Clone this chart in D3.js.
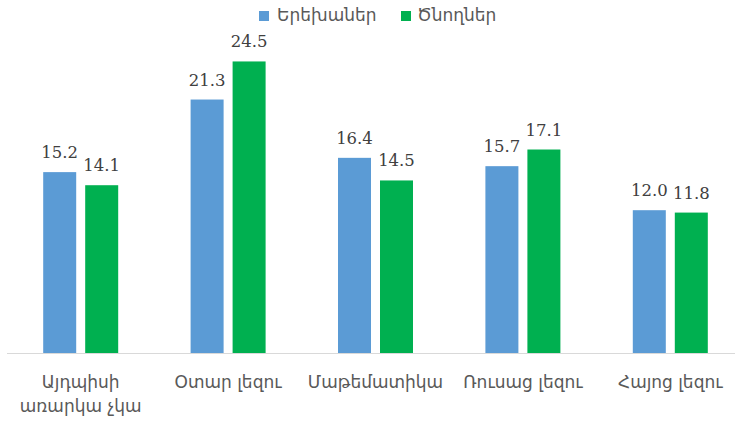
<!DOCTYPE html>
<html><head><meta charset="utf-8">
<script src="https://cdn.jsdelivr.net/npm/d3@7"></script>
<style>body{margin:0;background:#fff}svg{display:block}</style>
</head><body>
<script>
const categories = [["Այդպիսի","առարկա չկա"],["Օտար լեզու"],["Մաթեմատիկա"],["Ռուսաց լեզու"],["Հայոց լեզու"]];
const seriesNames = ["Երեխաներ","Ծնողներ"];
const children = [15.2, 21.3, 16.4, 15.7, 12.0];
const parents = [14.1, 24.5, 14.5, 17.1, 11.8];
const colors = ["#5B9BD5","#00B050"];

const W=735,H=424;
const svg=d3.select("body").append("svg").attr("width",W).attr("height",H);
const base=353;
const y=d3.scaleLinear().domain([0,25]).range([base, base-25*11.9]);
const x0=d3.scaleBand().domain(d3.range(categories.length)).range([7,744]).padding(0);
const x1=d3.scaleBand().domain([0,1]).range([0,75]).paddingInner(9/42).paddingOuter(0);
const off=(x0.bandwidth()-75)/2;
const series=[children,parents];
const serif="'DejaVu Serif', serif";
const arm="'DejaVu Sans', 'Noto Sans', sans-serif";

// axis line
svg.append("line").attr("x1",7).attr("x2",735).attr("y1",base+0.5).attr("y2",base+0.5)
  .attr("stroke","#d9d9d9").attr("stroke-width",1);

categories.forEach((c,i)=>{
  const g=svg.append("g").attr("transform",`translate(${x0(i)+off},0)`);
  series.forEach((s,j)=>{
    g.append("rect").attr("x",x1(j)).attr("width",x1.bandwidth())
      .attr("y",y(s[i])).attr("height",base-y(s[i])).attr("fill",colors[j]);
    g.append("text").attr("x",x1(j)+x1.bandwidth()/2).attr("y",y(s[i])-14)
      .attr("text-anchor","middle").attr("font-family",serif).attr("font-size",16.5)
      .attr("fill","#404040").text(s[i].toFixed(1));
  });
  const t=svg.append("text").attr("x",x0(i)+x0.bandwidth()/2).attr("y",388)
    .attr("text-anchor","middle").attr("font-family",arm).attr("font-size",17).attr("fill","#595959");
  c.forEach((line,k)=>t.append("tspan").attr("x",x0(i)+x0.bandwidth()/2).attr("dy",k?24:0).text(line));
});

// legend
const legX=[259,401];
const legT=[277,417];
seriesNames.forEach((n,j)=>{
  svg.append("rect").attr("x",legX[j]).attr("y",11).attr("width",10).attr("height",10).attr("fill",colors[j]);
  svg.append("text").attr("x",legT[j]).attr("y",21).attr("font-family",arm).attr("font-size",17)
    .attr("fill","#595959").text(n);
});
</script>
</body></html>
